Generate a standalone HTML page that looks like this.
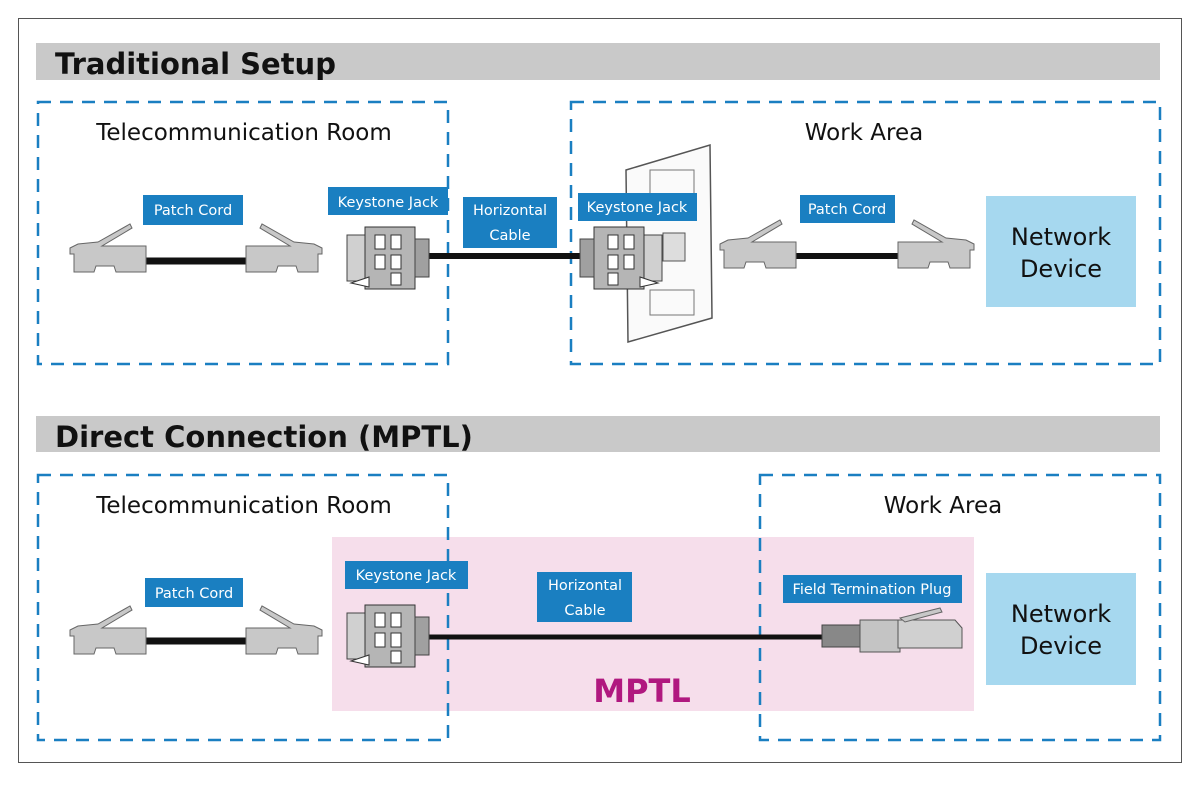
<!DOCTYPE html>
<html><head><meta charset="utf-8"><style>
html,body{margin:0;padding:0;background:#fff}
svg{display:block}
text{font-family:"DejaVu Sans","Liberation Sans",sans-serif}
.lb{fill:#1a7fc1}
.lt{fill:#fff;font-size:14.5px;text-anchor:middle}
.dash{fill:none;stroke:#1a7fc1;stroke-width:2.5;stroke-dasharray:13 9}
.area{font-size:23px;fill:#111;text-anchor:middle}
.nd{fill:#a6d8ef}
.ndt{font-size:24px;fill:#111;text-anchor:middle}
</style></head><body>
<svg width="1200" height="786" viewBox="0 0 1200 786" xmlns="http://www.w3.org/2000/svg">
<defs>
<g id="plugL">
  <path d="M0,8 L8,4 L28,2 L60,-16 L62,-12 L32,6 L76,6 L76,32 L46,32 L44,26 L26,26 L24,32 L4,32 L4,14 L0,14 Z" fill="#c8c8c8" stroke="#666" stroke-width="1"/>
</g>
<g id="jack">
  <rect x="0" y="10" width="20" height="46" fill="#d0d0d0" stroke="#444"/>
  <rect x="18" y="2" width="50" height="62" fill="#b5b5b5" stroke="#333"/>
  <rect x="28" y="10" width="10" height="14" fill="#fff" stroke="#333"/>
  <rect x="44" y="10" width="10" height="14" fill="#fff" stroke="#333"/>
  <rect x="28" y="30" width="10" height="14" fill="#fff" stroke="#333"/>
  <rect x="44" y="30" width="10" height="14" fill="#fff" stroke="#333"/>
  <rect x="44" y="48" width="10" height="12" fill="#fff" stroke="#333"/>
  <rect x="68" y="14" width="14" height="38" fill="#a0a0a0" stroke="#444"/>
  <path d="M4,58 L22,52 L22,62 Z" fill="#fff" stroke="#333"/>
</g>
</defs>
<rect x="18.5" y="18.5" width="1163" height="744" fill="none" stroke="#555" stroke-width="1"/>

<!-- Section 1 -->
<rect x="36" y="43" width="1124" height="37" fill="#c9c9c9"/>
<text x="55" y="74" font-size="29" font-weight="bold" fill="#111">Traditional Setup</text>
<rect class="dash" x="38" y="102" width="410" height="262"/>
<rect class="dash" x="571" y="102" width="589" height="262"/>
<text class="area" x="244" y="140">Telecommunication Room</text>
<text class="area" x="864" y="140">Work Area</text>

<line x1="140" y1="261" x2="255" y2="261" stroke="#111" stroke-width="7"/>
<use href="#plugL" transform="translate(70,240)"/>
<use href="#plugL" transform="translate(322,240) scale(-1,1)"/>
<line x1="420" y1="256" x2="600" y2="256" stroke="#111" stroke-width="6"/>
<use href="#jack" transform="translate(347,225)"/>
<path d="M626,170 L710,145 L712,318 L628,342 Z" fill="#fafafa" stroke="#555" stroke-width="1.5"/>
<rect x="650" y="170" width="44" height="25" fill="none" stroke="#777"/>
<rect x="650" y="290" width="44" height="25" fill="none" stroke="#777"/>
<rect x="663" y="233" width="22" height="28" fill="#ddd" stroke="#555"/>
<use href="#jack" transform="translate(662,225) scale(-1,1)"/>
<line x1="790" y1="256" x2="905" y2="256" stroke="#111" stroke-width="6"/>
<use href="#plugL" transform="translate(720,236)"/>
<use href="#plugL" transform="translate(974,236) scale(-1,1)"/>

<rect class="nd" x="986" y="196" width="150" height="111"/>
<text class="ndt" x="1061" y="245">Network</text>
<text class="ndt" x="1061" y="277">Device</text>

<rect class="lb" x="143" y="195" width="100" height="30"/><text class="lt" x="193" y="215">Patch Cord</text>
<rect class="lb" x="328" y="187" width="120" height="28"/><text class="lt" x="388" y="207">Keystone Jack</text>
<rect class="lb" x="463" y="197" width="94" height="51"/><text class="lt" x="510" y="215">Horizontal</text><text class="lt" x="510" y="240">Cable</text>
<rect class="lb" x="578" y="193" width="119" height="28"/><text class="lt" x="637" y="212">Keystone Jack</text>
<rect class="lb" x="800" y="195" width="95" height="28"/><text class="lt" x="847" y="214">Patch Cord</text>

<!-- Section 2 -->
<rect x="36" y="416" width="1124" height="36" fill="#c9c9c9"/>
<text x="55" y="447" font-size="29" font-weight="bold" fill="#111">Direct Connection (MPTL)</text>
<rect x="332" y="537" width="642" height="174" fill="#f6deeb"/>
<rect class="dash" x="38" y="475" width="410" height="265"/>
<rect class="dash" x="760" y="475" width="400" height="265"/>
<text class="area" x="244" y="513">Telecommunication Room</text>
<text class="area" x="943" y="513">Work Area</text>

<line x1="140" y1="641" x2="255" y2="641" stroke="#111" stroke-width="7"/>
<use href="#plugL" transform="translate(70,622)"/>
<use href="#plugL" transform="translate(322,622) scale(-1,1)"/>
<line x1="420" y1="637" x2="840" y2="637" stroke="#111" stroke-width="5"/>
<use href="#jack" transform="translate(347,603)"/>
<rect x="822" y="625" width="40" height="22" fill="#888" stroke="#444"/>
<rect x="860" y="620" width="40" height="32" fill="#c4c4c4" stroke="#555"/>
<path d="M898,620 L955,620 L962,628 L962,648 L898,648 Z" fill="#d0d0d0" stroke="#555"/>
<path d="M900,618 L940,608 L942,612 L905,622 Z" fill="#c8c8c8" stroke="#666"/>

<rect class="nd" x="986" y="573" width="150" height="112"/>
<text class="ndt" x="1061" y="622">Network</text>
<text class="ndt" x="1061" y="654">Device</text>

<rect class="lb" x="145" y="578" width="98" height="29"/><text class="lt" x="194" y="598">Patch Cord</text>
<rect class="lb" x="345" y="561" width="123" height="28"/><text class="lt" x="406" y="580">Keystone Jack</text>
<rect class="lb" x="537" y="572" width="95" height="50"/><text class="lt" x="585" y="590">Horizontal</text><text class="lt" x="585" y="615">Cable</text>
<rect class="lb" x="783" y="575" width="179" height="28"/><text class="lt" x="872" y="594">Field Termination Plug</text>

<text x="642" y="702" font-size="32" font-weight="bold" fill="#b0187f" text-anchor="middle">MPTL</text>
</svg>
</body></html>
